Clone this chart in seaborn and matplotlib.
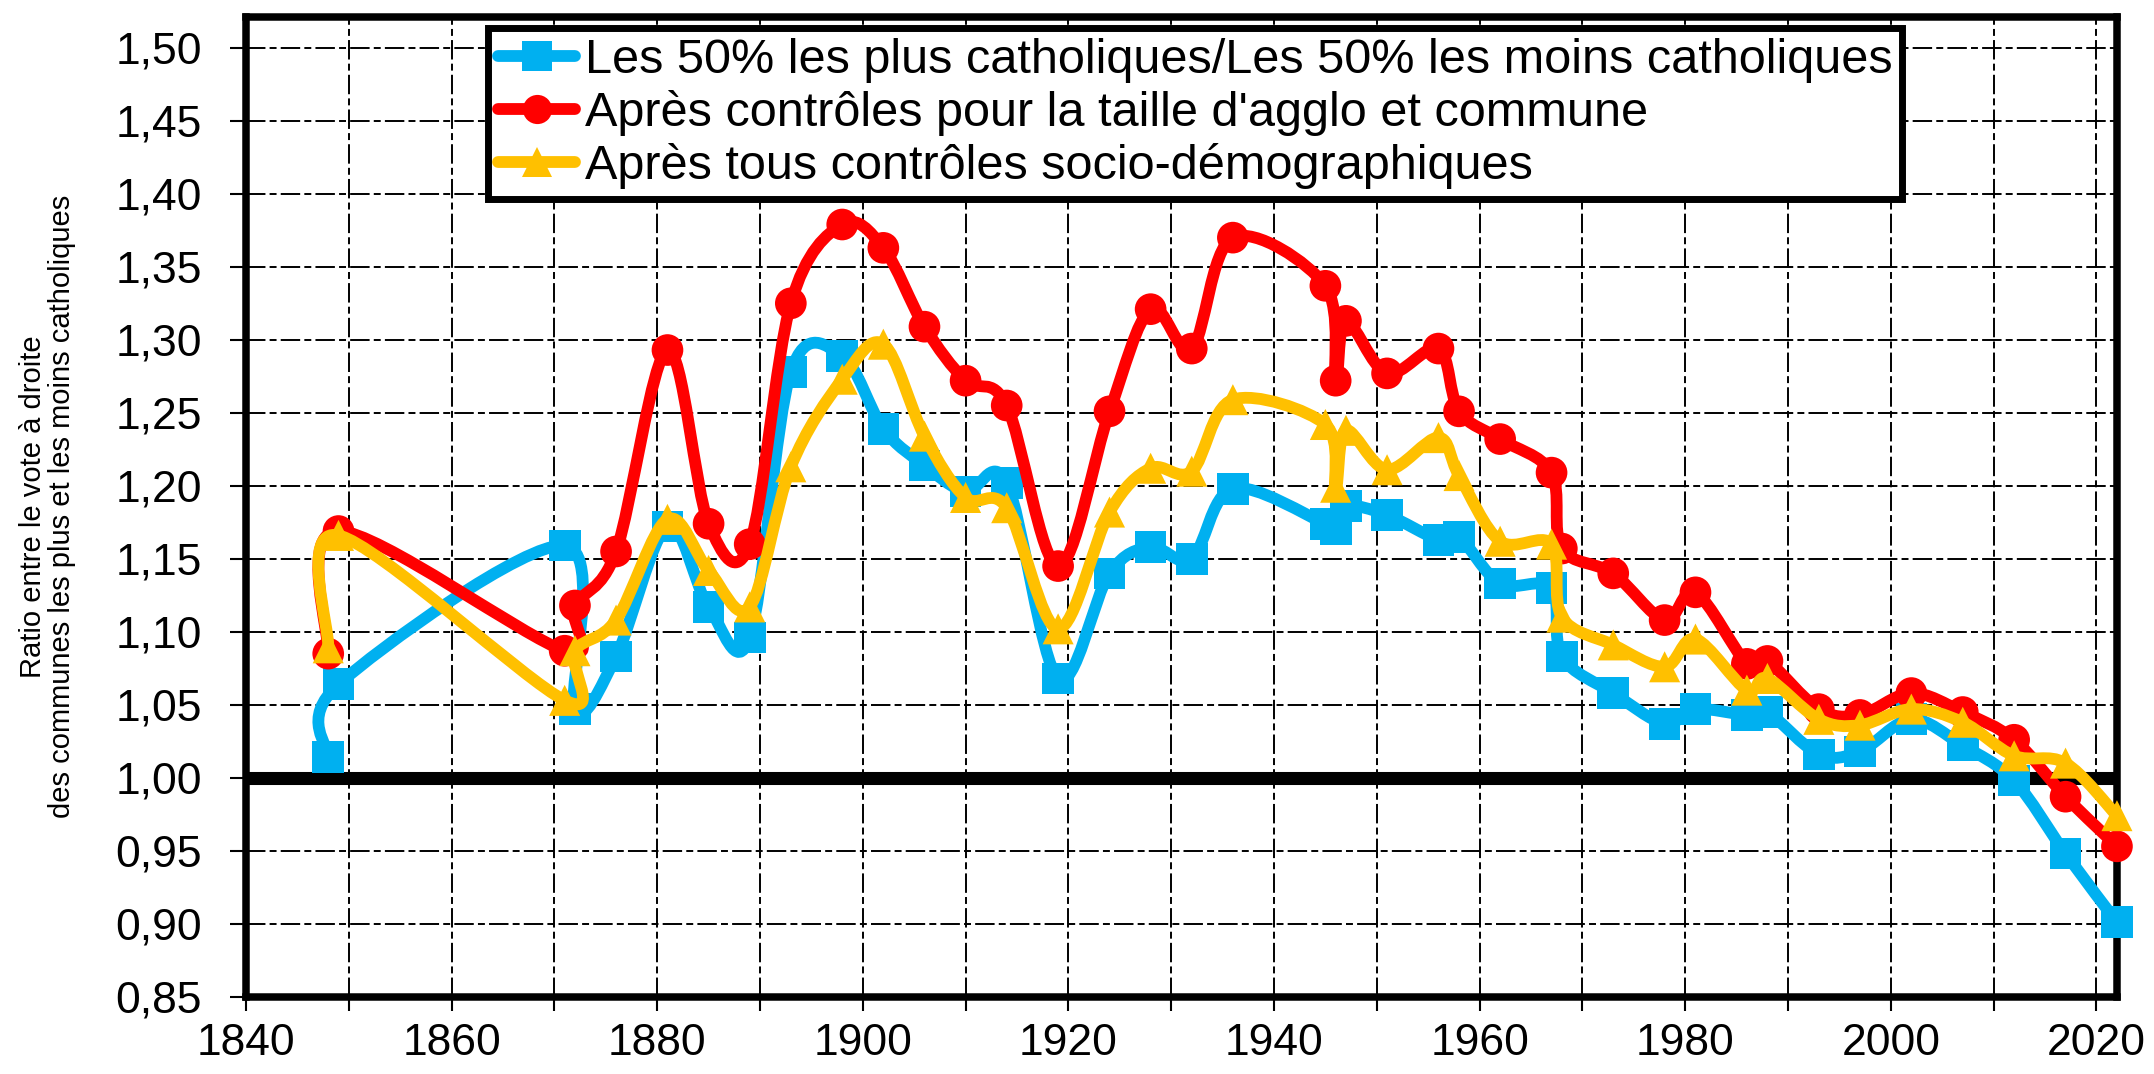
import matplotlib
matplotlib.use("Agg")
import matplotlib.pyplot as plt
import seaborn as sns
import numpy as np
from matplotlib.path import Path
from matplotlib.patches import PathPatch
from matplotlib.lines import Line2D
from matplotlib.ticker import MultipleLocator, FuncFormatter

# Valeurs (une valeur par élection)
annees = [1848, 1849, 1871, 1872, 1876, 1881, 1885, 1889, 1893, 1898,
          1902, 1906, 1910, 1914, 1919, 1924, 1928, 1932, 1936, 1945,
          1946, 1947, 1951, 1956, 1958, 1962, 1967, 1968, 1973, 1978,
          1981, 1986, 1988, 1993, 1997, 2002, 2007, 2012, 2017, 2022]

plus_moins_catho = [1.014, 1.064, 1.159, 1.047, 1.083, 1.172, 1.117, 1.096, 1.278, 1.289,
                    1.239, 1.214, 1.196, 1.202, 1.068, 1.140, 1.158, 1.150, 1.198, 1.174,
                    1.170, 1.186, 1.180, 1.163, 1.165, 1.133, 1.130, 1.083, 1.058, 1.037,
                    1.047, 1.043, 1.045, 1.016, 1.018, 1.040, 1.022, 0.998, 0.948, 0.901]

ctrl_agglo = [1.085, 1.169, 1.087, 1.118, 1.155, 1.293, 1.174, 1.160, 1.325, 1.379,
              1.363, 1.309, 1.272, 1.255, 1.145, 1.251, 1.321, 1.294, 1.370, 1.337,
              1.272, 1.313, 1.277, 1.294, 1.251, 1.232, 1.209, 1.157, 1.140, 1.108,
              1.127, 1.078, 1.080, 1.047, 1.043, 1.058, 1.045, 1.026, 0.987, 0.953]

ctrl_socio = [1.089, 1.166, 1.053, 1.087, 1.108, 1.177, 1.142, 1.117, 1.213, 1.273,
              1.297, 1.234, 1.192, 1.185, 1.102, 1.182, 1.212, 1.210, 1.259, 1.242,
              1.199, 1.238, 1.211, 1.233, 1.207, 1.162, 1.160, 1.110, 1.091, 1.076,
              1.095, 1.060, 1.068, 1.040, 1.036, 1.047, 1.038, 1.015, 1.010, 0.974]

labels = ["Les 50% les plus catholiques/Les 50% les moins catholiques",
          "Après contrôles pour la taille d'agglo et commune",
          "Après tous contrôles socio-démographiques"]
couleurs = ["#00B0F0", "#FF0000", "#FFC000"]
marqueurs = ["s", "o", "^"]

sns.set_theme(style="white")
plt.rcParams["font.family"] = ["Liberation Sans", "DejaVu Sans"]
plt.rcParams["lines.scale_dashes"] = False
for k in ["text.color", "axes.labelcolor", "xtick.color", "ytick.color"]:
    plt.rcParams[k] = "black"


def courbe_lissee(x, y):
    # ligne lissée façon Excel : Bezier cubique passant par chaque point
    pts = np.column_stack([x, y]).astype(float)
    n = len(pts)
    verts = [pts[0]]
    codes = [Path.MOVETO]
    for i in range(n - 1):
        p0 = pts[max(i - 1, 0)]
        p1 = pts[i]
        p2 = pts[i + 1]
        p3 = pts[min(i + 2, n - 1)]
        verts += [p1 + (p2 - p0) / 6, p2 - (p3 - p1) / 6, p2]
        codes += [Path.CURVE4] * 3
    return Path(verts, codes)


fig = plt.figure(figsize=(21.54, 10.74), dpi=100)
ax = fig.add_axes([0.1142, 0.0720, 0.8686, 0.9125])

series = [plus_moins_catho, ctrl_agglo, ctrl_socio]
tailles = [520, 520, 500]
for k, (vals, col, mk, s) in enumerate(zip(series, couleurs, marqueurs, tailles)):
    z = 4 + k
    ax.add_patch(PathPatch(courbe_lissee(annees, vals), fill=False, edgecolor=col,
                           lw=8.5, capstyle="round", joinstyle="round", zorder=z,
                           clip_on=False))
    sns.scatterplot(x=annees, y=vals, marker=mk, s=s, color=col, edgecolor="none",
                    linewidth=0, ax=ax, zorder=z, legend=False, clip_on=False)

ax.set_xlim(1840, 2022)
ax.set_ylim(0.85, 1.5214)

ax.xaxis.set_major_locator(MultipleLocator(20))
ax.xaxis.set_minor_locator(MultipleLocator(10))
ax.yaxis.set_major_locator(MultipleLocator(0.05))
ax.yaxis.set_major_formatter(FuncFormatter(lambda v, p: f"{v:.2f}".replace(".", ",")))

ax.tick_params(axis="x", which="both", direction="out", length=10, width=1.5,
               color="black", bottom=True, labelsize=32, pad=9)
ax.tick_params(axis="y", which="major", direction="out", length=11.5, width=1.5,
               color="black", left=True, labelsize=32, pad=20)

grid_style = dict(color="black", lw=1.4, linestyle=(0, (14, 3, 5, 3)))
ax.grid(axis="x", which="both", **grid_style)
ax.grid(axis="y", which="major", **grid_style)
ax.set_axisbelow(True)

for sp in ax.spines.values():
    sp.set_visible(True)
    sp.set_color("black")
    sp.set_linewidth(5.4)

ax.axhline(1.0, color="black", lw=9.4, zorder=2.6)

ax.set_xlabel("")
ax.set_ylabel("Ratio entre le vote à droite\ndes communes les plus et les moins catholiques",
              fontsize=21, linespacing=1.05)
ax.yaxis.label.set_va("center")
ax.yaxis.set_label_coords(-0.106, 0.5)

poignees = [Line2D([], [], color=c, lw=8.5, marker=m, markersize=21, markeredgewidth=0)
            for c, m in zip(couleurs, marqueurs)]
leg = ax.legend(poignees, labels, loc="upper left", bbox_to_anchor=(0.1293, 0.9885),
                borderaxespad=0, fontsize=35, frameon=True, fancybox=False,
                edgecolor="black", framealpha=1, handlelength=1.6, handletextpad=0.2,
                labelspacing=0.15, borderpad=0.2)
leg.get_frame().set_linewidth(5)
leg.set_zorder(10)

fig.savefig("out.png", dpi=100)
